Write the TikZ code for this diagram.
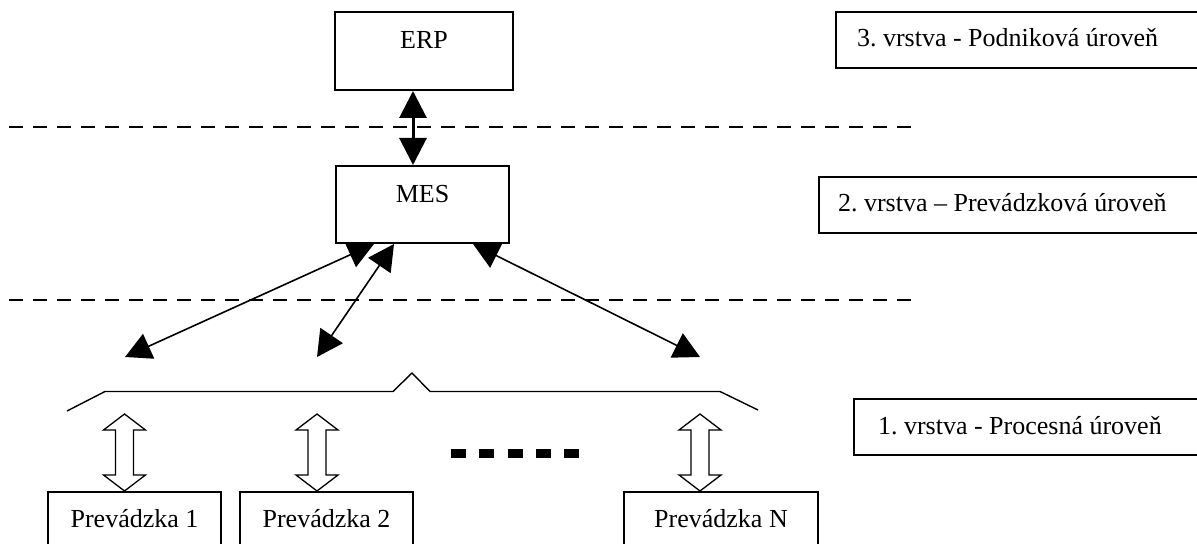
\documentclass[tikz,border=0pt]{standalone}
\usepackage{fontspec}
\setmainfont{Liberation Serif}
\usetikzlibrary{arrows.meta,calc}
\frenchspacing
\newcommand\leftlabel[1]{\makebox[220pt][l]{#1}}
\begin{document}
\begin{tikzpicture}[x=0.5pt,y=-0.5pt,
  box/.style={draw,line width=1pt,inner sep=0pt,anchor=north west,
    font=\fontsize{13}{15}\selectfont},
  levelbox/.style={box,text height=17.5pt,text depth=10.5pt},
  layer/.style={line width=1pt,dash pattern=on 6.85pt off 5.15pt},
  bigtip/.tip={Triangle[length=13.5pt,width=13.5pt]},
  tip/.tip={Triangle[length=13pt,width=13.5pt]},
  link/.style={line width=0.8pt,tip-tip},
  hollow/.pic={\draw[line width=0.65pt,fill=white]
    (0,0) -- (21,-16) -- (9,-16) -- (9,-61) -- (21,-61) -- (0,-77)
    -- (-21,-61) -- (-9,-61) -- (-9,-16) -- (-21,-16) -- cycle;}]
\useasboundingbox (0,0) rectangle (1197,544);
\clip (0,0) rectangle (1197,544);

% enterprise and operations level systems
\node[box,minimum width=89pt,text height=18.5pt,text depth=20.5pt] (erp) at (334,11) {ERP};
\node[box,minimum width=86.5pt,text height=18.5pt,text depth=20pt] (mes) at (335,165) {MES};

% level captions on the right
\node[levelbox,inner xsep=10.5pt] (l3) at (835,11) {\leftlabel{3. vrstva - Podniková úroveň}};
\node[levelbox,inner xsep=9.5pt] (l2) at (818,176) {\leftlabel{2. vrstva – Prevádzková úroveň}};
\node[levelbox,inner xsep=12pt] (l1) at (853,398) {\leftlabel{1. vrstva - Procesná úroveň}};

% plants
\node[box,minimum width=86.5pt,text height=17.5pt,text depth=18pt] (p1) at (47,491) {Prevádzka 1};
\node[box,minimum width=86.5pt,text height=17.5pt,text depth=18pt] (p2) at (239,491) {Prevádzka 2};
\node[box,minimum width=97pt,text height=17.5pt,text depth=18pt] (pn) at (623,491) {Prevádzka N};

% level separators
\draw[layer] (9,127) -- (920,127);
\draw[layer] (9,300) -- (920,300);

% ERP <-> MES
\draw[line width=1.5pt,bigtip-bigtip] ($(erp.south)+(-11,0)$) -- ($(mes.north)+(-9.5,0)$);

% MES <-> process level
\coordinate (t1) at (125,357);
\coordinate (t2) at (317,357);
\coordinate (t3) at (700,357);
\draw[link] ($(mes.south)+(-48.5,0)$) -- (t1);
\draw[link] ($(mes.south)+(-28.5,0)$) -- (t2);
\draw[link] ($(mes.south)+(50.5,0)$) -- (t3);

% brace grouping the plants
\draw[line width=0.7pt] (67,411) -- (105,391.5) -- (393,391.5) -- (412,373)
  -- (430,391.5) -- (720,391.5) -- (758,410);

% plant links
\pic at ($(p1.north west)+(77.5,0)$) {hollow};
\pic at ($(p2.north west)+(78,0)$) {hollow};
\pic at ($(pn.north west)+(77,0)$) {hollow};

% ellipsis between plants
\draw[line width=4.5pt,dash pattern=on 7.5pt off 6.65pt] (451,453.5) -- (580,453.5);
\end{tikzpicture}
\end{document}
